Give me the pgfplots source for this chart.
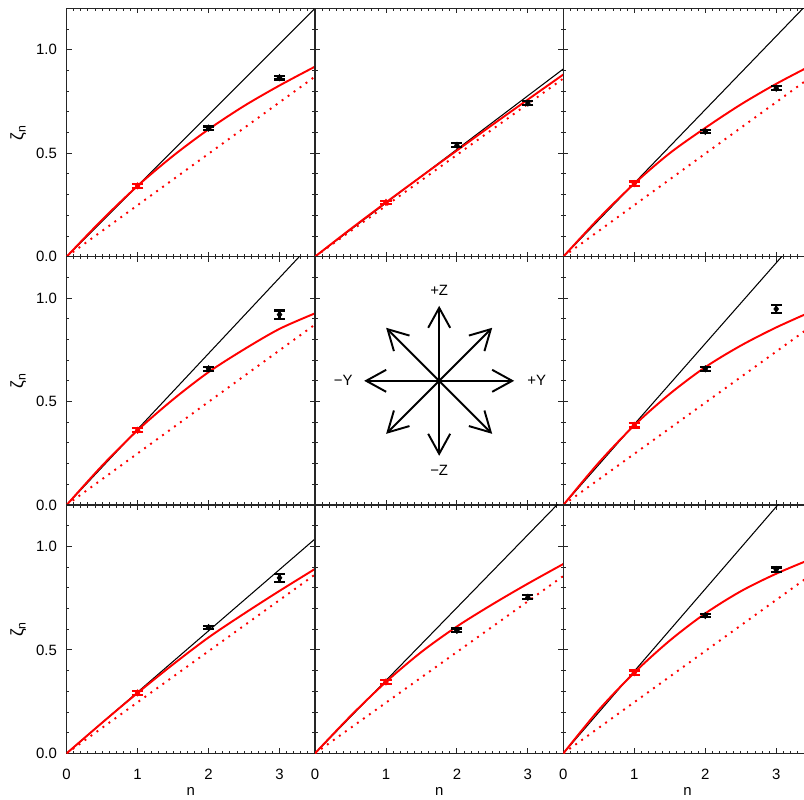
\documentclass[border=0pt]{standalone}
\usepackage{fontspec}
\setmainfont{Liberation Sans}
\usepackage{pgfplots}
\pgfplotsset{compat=1.18}
\usetikzlibrary{arrows.meta,calc}

\pgfplotsset{
  panel/.style={
    scale only axis, width=4.967cm, height=4.967cm, anchor=south west,
    xmin=0, xmax=3.5, ymin=0, ymax=1.2,
    xtick={0,1,2,3}, ytick={0,0.5,1},
    minor xtick={0,0.1,...,3.5}, minor ytick={0,0.1,...,1.2},
    tick align=inside, tick pos=both,
    major tick length=0.1cm, minor tick length=0.055cm,
    axis line style={line width=0.7pt, black!85},
    tick style={line width=0.5pt, black!85},
    xticklabels={}, yticklabels={},
    font=\fontsize{8.5}{10}\selectfont,
    /pgf/number format/assume math mode=true,
  },
  lefty/.style={
    yticklabel={\pgfmathprintnumber[fixed,fixed zerofill,precision=1]{\tick}},
    yticklabel style={xshift=-0.07cm},
    ylabel={\fontsize{10}{12}\selectfont ζ\textsubscript{n}},
    y label style={at={(axis description cs:-0.195,0.5)}, anchor=center},
  },
  bottomx/.style={
    xticklabel={\pgfmathprintnumber{\tick}},
    xticklabel style={yshift=-0.2cm},
    xlabel={n},
    x label style={at={(axis description cs:0.5,-0.155)}, anchor=center},
  },
  kline/.style={black, line width=0.6pt},
  rcurve/.style={red, line width=1.1pt, smooth},
  rdots/.style={red, line width=1.1pt, dash pattern=on 1.1pt off 3.1pt},
  rpt/.style={red, only marks, mark=diamond*, mark size=1.8pt,
    error bars/.cd, y dir=both, y explicit,
    error bar style={line width=1.3pt, red},
    error mark options={rotate=90, mark size=3.3pt, line width=1.3pt, red}},
  kpt/.style={black, only marks, mark=diamond*, mark size=1.8pt,
    error bars/.cd, y dir=both, y explicit,
    error bar style={line width=1.2pt, black},
    error mark options={rotate=90, mark size=3.1pt, line width=1.2pt, black}},
}

\begin{document}
\begin{tikzpicture}
\path[use as bounding box, clip] (0,0) rectangle (16.08,16);

% ---- row 1 ----
\begin{axis}[panel, lefty, at={(1.333cm,10.867cm)}]
  \addplot[kline] coordinates {(0,0) (3.5,1.200)};
  \addplot[rdots] coordinates {(0,0) (3.5,0.870)};
  \addplot[rcurve] coordinates {(0,0) (0.5,0.178) (1,0.342) (1.5,0.487) (2,0.615) (2.5,0.728) (3,0.827) (3.5,0.918)};
  \addplot[kpt] coordinates {(2,0.621) +- (0,0.008) (3,0.865) +- (0,0.009)};
  \addplot[rpt] coordinates {(1,0.342) +- (0,0.010)};
\end{axis}

\begin{axis}[panel, at={(6.3cm,10.867cm)}]
  \addplot[kline] coordinates {(0,0) (3.5,0.907)};
  \addplot[rdots] coordinates {(0,0) (3.5,0.861)};
  \addplot[rcurve] coordinates {(0,0) (0.5,0.133) (1,0.262) (1.5,0.388) (2,0.513) (2.5,0.637) (3,0.759) (3.5,0.880)};
  \addplot[kpt] coordinates {(2,0.538) +- (0,0.010) (3,0.742) +- (0,0.010)};
  \addplot[rpt] coordinates {(1,0.262) +- (0,0.008)};
\end{axis}

\begin{axis}[panel, at={(11.267cm,10.867cm)}]
  \addplot[kline] coordinates {(0,0) (3.5,1.243)};
  \addplot[rdots] coordinates {(0,0) (3.5,0.871)};
  \addplot[rcurve] coordinates {(0,0) (0.5,0.185) (1,0.353) (1.5,0.500) (2,0.622) (2.5,0.735) (3,0.835) (3.5,0.925)};
  \addplot[kpt] coordinates {(2,0.605) +- (0,0.009) (3,0.814) +- (0,0.009)};
  \addplot[rpt] coordinates {(1,0.353) +- (0,0.010)};
\end{axis}

% ---- row 2 ----
\begin{axis}[panel, lefty, at={(1.333cm,5.9cm)}]
  \addplot[kline] coordinates {(0,0) (3.5,1.281)};
  \addplot[rdots] coordinates {(0,0) (3.5,0.872)};
  \addplot[rcurve] coordinates {(0,0) (0.5,0.190) (1,0.361) (1.5,0.510) (2,0.642) (2.5,0.752) (3,0.851) (3.5,0.926)};
  \addplot[kpt] coordinates {(2,0.658) +- (0,0.010) (3,0.920) +- (0,0.020)};
  \addplot[rpt] coordinates {(1,0.361) +- (0,0.010)};
\end{axis}

\begin{axis}[panel, at={(6.3cm,5.9cm)}, name=p5]
\end{axis}

\begin{axis}[panel, at={(11.267cm,5.9cm)}]
  \addplot[kline] coordinates {(0,0) (3.5,1.365)};
  \addplot[rdots] coordinates {(0,0) (3.5,0.865)};
  \addplot[rcurve] coordinates {(0,0) (0.5,0.205) (1,0.385) (1.5,0.537) (2,0.666) (2.5,0.770) (3,0.858) (3.5,0.935)};
  \addplot[kpt] coordinates {(2,0.658) +- (0,0.010) (3,0.947) +- (0,0.020)};
  \addplot[rpt] coordinates {(1,0.385) +- (0,0.010)};
\end{axis}

% ---- row 3 ----
\begin{axis}[panel, lefty, bottomx, at={(1.333cm,0.933cm)}]
  \addplot[kline] coordinates {(0,0) (3.5,1.036)};
  \addplot[rdots] coordinates {(0,0) (3.5,0.864)};
  \addplot[rcurve] coordinates {(0,0) (0.5,0.148) (1,0.292) (1.5,0.430) (2,0.560) (2.5,0.675) (3,0.785) (3.5,0.891)};
  \addplot[kpt] coordinates {(2,0.608) +- (0,0.008) (3,0.848) +- (0,0.020)};
  \addplot[rpt] coordinates {(1,0.292) +- (0,0.010)};
\end{axis}

\begin{axis}[panel, bottomx, at={(6.3cm,0.933cm)}]
  \addplot[kline] coordinates {(0,0) (3.5,1.232)};
  \addplot[rdots] coordinates {(0,0) (3.5,0.857)};
  \addplot[rcurve] coordinates {(0,0) (0.5,0.180) (1,0.345) (1.5,0.490) (2,0.613) (2.5,0.720) (3,0.820) (3.5,0.915)};
  \addplot[kpt] coordinates {(2,0.594) +- (0,0.009) (3,0.754) +- (0,0.009)};
  \addplot[rpt] coordinates {(1,0.345) +- (0,0.010)};
\end{axis}

\begin{axis}[panel, bottomx, at={(11.267cm,0.933cm)}]
  \addplot[kline] coordinates {(0,0) (3.5,1.390)};
  \addplot[rdots] coordinates {(0,0) (3.5,0.865)};
  \addplot[rcurve] coordinates {(0,0) (0.5,0.210) (1,0.390) (1.5,0.545) (2,0.676) (2.5,0.783) (3,0.868) (3.5,0.940)};
  \addplot[kpt] coordinates {(2,0.666) +- (0,0.009) (3,0.888) +- (0,0.010)};
  \addplot[rpt] coordinates {(1,0.390) +- (0,0.010)};
\end{axis}

% direction diagram in the middle panel
\foreach \a in {0,45,...,315}
  \draw[line width=1.1pt, -{Straight Barb[length=4mm,width=4.4mm]}] (p5.center) -- ++(\a:1.5cm);
\begin{scope}[font=\fontsize{8.5}{10}\selectfont]
  \node at ($(p5.center)+(0,1.8cm)$) {+Z};
  \node at ($(p5.center)+(0,-1.8cm)$) {−Z};
  \node at ($(p5.center)+(-1.92cm,0)$) {−Y};
  \node at ($(p5.center)+(1.95cm,0)$) {+Y};
\end{scope}
\end{tikzpicture}
\end{document}
